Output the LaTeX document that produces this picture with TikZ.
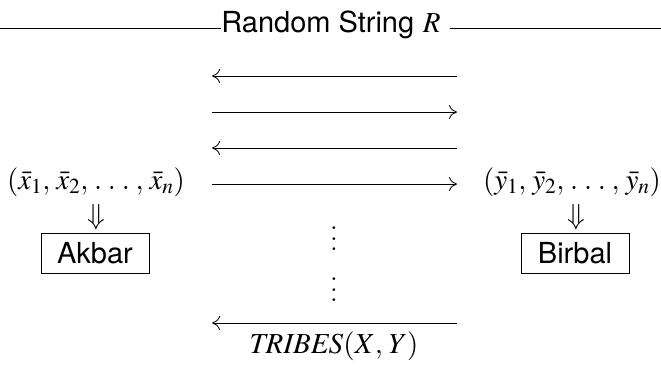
\documentclass[tikz,border=0pt]{standalone}
\usepackage{mathptmx}
\usepackage{fontspec}
\setsansfont{TeX Gyre Heros}
\usepackage{tikz}
\usetikzlibrary{calc}
\usetikzlibrary{arrows.meta}
\usetikzlibrary{positioning}

\thinmuskip=3.6mu

\tikzset{
    txt/.style={font=\fontsize{29}{34}\selectfont, inner sep=0pt},
    player/.style={txt, draw, line width=0.8pt, minimum width=108pt, minimum height=40pt, font=\fontsize{29}{34}\selectfont\sffamily},
    msg/.style={line width=0.8pt},
    tip/.style={-{Computer Modern Rightarrow[length=8pt,width=14pt]}}
}

\begin{document}
\begin{tikzpicture}[x=1pt,y=-1pt]
        \useasboundingbox (0,0) rectangle (661,372);

        % Stringa casuale
        \node[txt] (rand) at (331,25) {\textsf{Random String} $R$};
        \coordinate (top l) at (0,28);
        \coordinate (top r) at (661,28);
        \draw[line width=0.8pt] (top l) -- (top l -| rand.west);
        \draw[line width=0.8pt] ([xshift=9pt]top r -| rand.east) -- (top r);

        % Messaggi
        \coordinate (l1) at (212,76);   \coordinate (r1) at (457,76);
        \coordinate (l2) at (212,112);  \coordinate (r2) at (457,112);
        \coordinate (l3) at (212,148);  \coordinate (r3) at (457,148);
        \coordinate (l4) at (212,184);  \coordinate (r4) at (457,184);
        \coordinate (l5) at (212,323);  \coordinate (r5) at (457,323);

        \draw[msg,tip] (r1) -- (l1);
        \draw[msg,tip] (l2) -- (r2);
        \draw[msg,tip] (r3) -- (l3);
        \draw[msg,tip] (l4) -- (r4);
        \draw[msg,tip] (r5) -- (l5);

        \node[scale=2.6] (dots1) at (334,231) {$\vdots$};
        \node[scale=2.6] (dots2) at (334,282) {$\vdots$};

        % Akbar
        \node[txt] (xs) at (96,182) {$(\bar{x}_1, \bar{x}_2, \ldots, \bar{x}_n)$};
        \node[txt] (xarr) at (96,217) {$\Downarrow$};
        \node[player] (akbar) at (95,253) {Akbar};

        % Birbal
        \node[txt] (ys) at (572,182) {$(\bar{y}_1, \bar{y}_2, \ldots, \bar{y}_n)$};
        \node[txt] (yarr) at (576,217) {$\Downarrow$};
        \node[player] (birbal) at (575,253) {Birbal};

        \node[txt] (tribes) at (334,346) {$\mathit{TRIBES}(X, Y)$};
    \end{tikzpicture}
\end{document}
